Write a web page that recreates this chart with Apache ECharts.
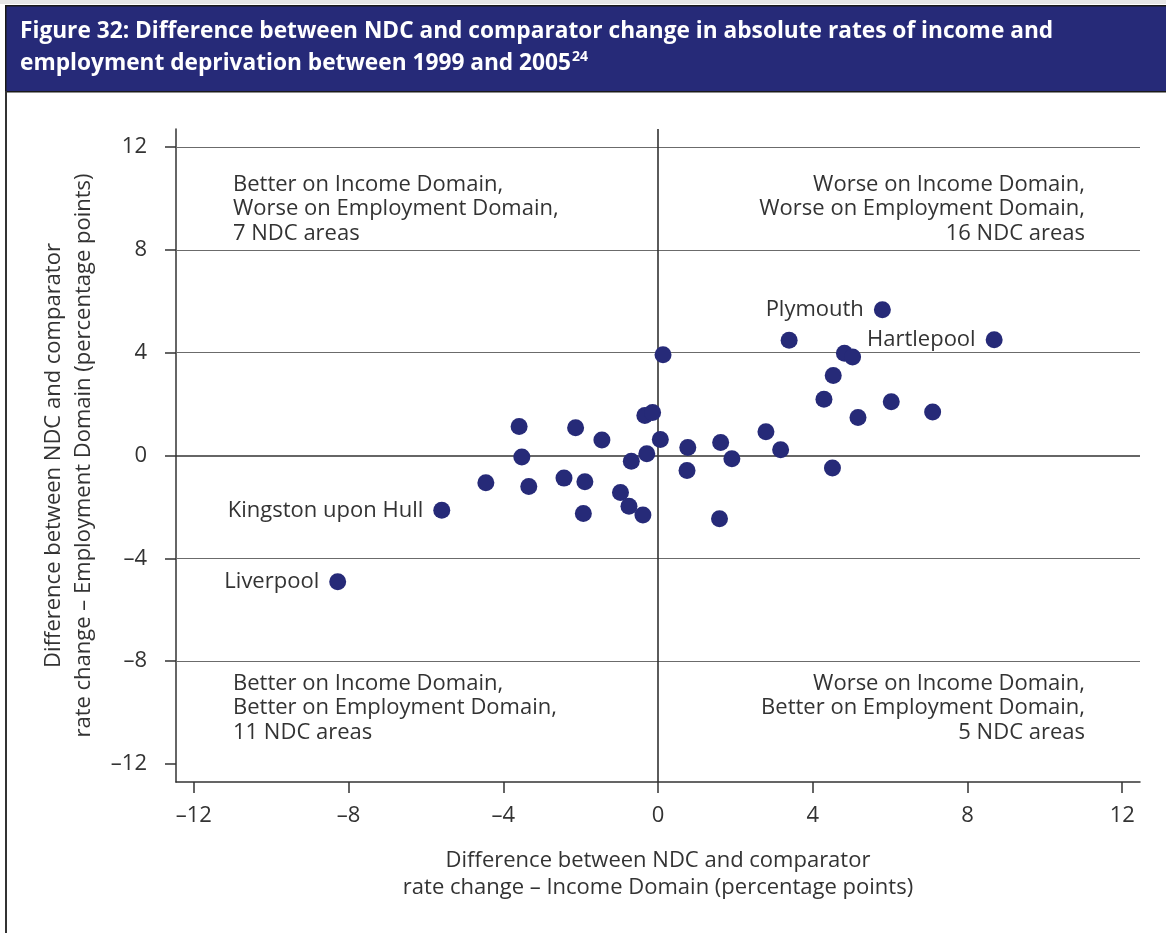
<!DOCTYPE html>
<html>
<head>
<meta charset="utf-8">
<script src="https://cdn.jsdelivr.net/npm/echarts@6/dist/echarts.min.js"></script>
<style>
html,body{margin:0;padding:0;background:#fff;}
#chart{width:1166px;height:933px;}
</style>
</head>
<body>
<div id="chart"></div>
<script>
// ---- Data ----
const areaNames = ['Plymouth','Hartlepool','','','','','','','','','','','','',
  '','','','','','','','','','','','','','','','','','','','','','','Kingston upon Hull','Liverpool'];
const incomeDiff = [5.80, 8.69, 3.39, 4.82, 5.03, 4.53, 4.29, 6.03, 7.10, 5.17, 2.79, 3.17, 4.51, 0.13,
  -3.59, -2.13, -1.45, -0.34, -0.14, 0.06, 0.77, 1.62, -3.52, -0.29, -0.69, 1.91, 0.75, -4.45, -3.34,
  -2.43, -1.89, -0.97, -0.75, -0.39, -1.93, 1.59, -5.59, -8.28];
const employmentDiff = [5.67, 4.50, 4.48, 3.98, 3.83, 3.11, 2.19, 2.09, 1.69, 1.48, 0.92, 0.22, -0.49, 3.92,
  1.13, 1.08, 0.60, 1.56, 1.67, 0.62, 0.31, 0.51, -0.06, 0.07, -0.22, -0.13, -0.58, -1.06, -1.21,
  -0.88, -1.02, -1.44, -1.97, -2.31, -2.26, -2.46, -2.13, -4.91];
const xTicks = [-12, -8, -4, 0, 4, 8, 12];
const yTicks = [-12, -8, -4, 0, 4, 8, 12];
const gridLineValues = [12, 8, 4, -4, -8];
const quadrantTexts = [
  'Better on Income Domain,\nWorse on Employment Domain,\n7 NDC areas',
  'Worse on Income Domain,\nWorse on Employment Domain,\n16 NDC areas',
  'Better on Income Domain,\nBetter on Employment Domain,\n11 NDC areas',
  'Worse on Income Domain,\nBetter on Employment Domain,\n5 NDC areas'
];
const titleLine1 = 'Figure 32: Difference between NDC and comparator change in absolute rates of income and';
const titleLine2 = 'employment deprivation between 1999 and 2005';
const titleNote = '24';
const xAxisTitle = 'Difference between NDC and comparator\nrate change \u2013 Income Domain (percentage points)';
const yAxisTitle = 'Difference between NDC and comparator\nrate change \u2013 Employment Domain (percentage points)';

// ---- Chart ----
const FONT = '"Open Sans", "Noto Sans", sans-serif';
const TXT = '#333333';
const NAVY = '#262a78';
const FS = 22;
const chart = echarts.init(document.getElementById('chart'), null, {renderer: 'canvas'});

const points = incomeDiff.map((x, i) => {
  const item = {value: [x, employmentDiff[i]], name: areaNames[i]};
  if (areaNames[i]) {
    item.label = {show: true, formatter: '{b}', position: 'left', distance: 10,
      fontFamily: FONT, fontSize: FS, color: TXT};
  }
  return item;
});

const fmt = v => (v < 0 ? '\u2013' + Math.abs(v) : String(v));

const qPos = [
  {left: 233, top: 172, align: 'left'},
  {left: 1085, top: 172, align: 'right'},
  {left: 233, top: 671, align: 'left'},
  {left: 1085, top: 671, align: 'right'}
];

chart.setOption({
  animation: false,
  backgroundColor: '#fff',
  grid: {left: 176, right: 26, top: 129, bottom: 151},
  xAxis: {
    type: 'value', min: -12.46, max: 12.46,
    name: xAxisTitle, nameLocation: 'middle', nameGap: 65,
    nameTextStyle: {fontFamily: FONT, fontSize: FS, color: TXT, lineHeight: 27, verticalAlign: 'top'},
    axisLine: {show: true, onZero: false, lineStyle: {color: '#333', width: 1.5}},
    axisTick: {show: true, length: 11, customValues: xTicks, lineStyle: {color: '#333', width: 1.5}},
    axisLabel: {customValues: xTicks, formatter: fmt, margin: 23, fontFamily: FONT, fontSize: FS, color: TXT},
    splitLine: {show: false}
  },
  yAxis: {
    type: 'value', min: -12.7, max: 12.7,
    name: yAxisTitle, nameLocation: 'middle', nameGap: 77, nameRotate: 90,
    nameTextStyle: {fontFamily: FONT, fontSize: FS, color: TXT, lineHeight: 30},
    axisLine: {show: true, onZero: false, lineStyle: {color: '#333', width: 1.5}},
    axisTick: {show: true, length: 11, customValues: yTicks, lineStyle: {color: '#333', width: 1.5}},
    axisLabel: {customValues: yTicks, formatter: fmt, margin: 29, padding: [4, 0, 0, 0],
      fontFamily: FONT, fontSize: FS, color: TXT},
    splitLine: {show: false}
  },
  series: [
    {
      type: 'scatter', data: [], z: 1, silent: true,
      markLine: {
        silent: true, symbol: 'none', label: {show: false},
        lineStyle: {color: '#6b6b6b', width: 1.2, type: 'solid'},
        data: gridLineValues.map(v => ({yAxis: v}))
          .concat([
            {yAxis: 0, lineStyle: {color: '#333', width: 1.6, type: 'solid'}},
            {xAxis: 0, lineStyle: {color: '#333', width: 1.6, type: 'solid'}}
          ])
      }
    },
    {
      type: 'scatter', z: 5, symbol: 'circle', symbolSize: 17,
      itemStyle: {color: NAVY, opacity: 1},
      data: points
    }
  ],
  graphic: [
    {type: 'rect', left: 0, top: 0, shape: {width: 1166, height: 4}, style: {fill: '#e6e6e6'}},
    {type: 'rect', left: 5, top: 5, shape: {width: 1170, height: 86},
      style: {fill: NAVY, stroke: '#1a1a1a', lineWidth: 1.5}},
    {type: 'line', shape: {x1: 6, y1: 91, x2: 6, y2: 940}, style: {stroke: '#333', lineWidth: 2}},
    {type: 'text', x: 20, y: 32, style: {
      text: titleLine1, fill: '#fff', fontFamily: FONT, fontWeight: 'bold', fontSize: 22.7,
      verticalAlign: 'middle'}},
    {type: 'text', x: 20, y: 64, style: {
      text: '{t|' + titleLine2 + '}{s|' + titleNote + '}',
      verticalAlign: 'middle',
      rich: {
        t: {fill: '#fff', fontFamily: FONT, fontWeight: 'bold', fontSize: 22.7, lineHeight: 28},
        s: {fill: '#fff', fontFamily: FONT, fontWeight: 'bold', fontSize: 14, lineHeight: 28, padding: [0,0,14,1]}
      }}}
  ].concat(quadrantTexts.map((t, i) => ({
    type: 'text',
    x: qPos[i].left, y: qPos[i].top,
    style: {text: t, fill: TXT, fontFamily: FONT, fontSize: FS, lineHeight: 24.5,
      align: qPos[i].align, verticalAlign: 'top'}
  })))
});
</script>
</body>
</html>
